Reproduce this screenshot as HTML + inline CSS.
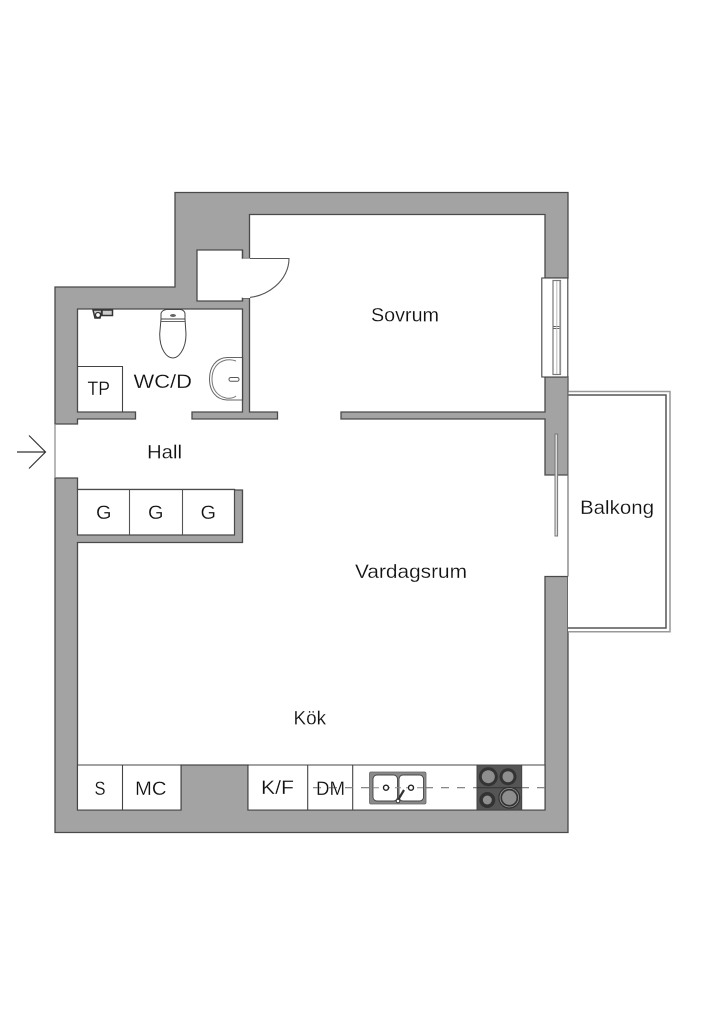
<!DOCTYPE html>
<html><head><meta charset="utf-8"><style>
html,body{margin:0;padding:0;background:#fff}
svg{display:block}
text{font-family:"Liberation Sans",sans-serif;font-size:19.5px;fill:#111;stroke:#fff;stroke-width:.2px}
</style></head><body>
<svg width="724" height="1024" viewBox="0 0 724 1024" xmlns="http://www.w3.org/2000/svg">
<rect width="724" height="1024" fill="#fff"/>
<!-- walls -->
<path fill="#a3a3a3" stroke="#4a4a4a" stroke-width="1.3" d="M175 192.500H568V278H545V214.500H249.500V258.500H242.500V250H197V301H242.500V298H249.500V412H277.500V419H192V412H242.500V309H77.500V412H135.500V419H77.500V424H55V287H175Z"/>
<path fill="#a3a3a3" stroke="#4a4a4a" stroke-width="1.3" d="M545 377H568V475H545V419H341V412H545Z"/>
<path fill="#a3a3a3" stroke="#4a4a4a" stroke-width="1.3" d="M55 478H77.500V489.500H234.500V490H242.500V542.500H77.500V765H77.500V810H181V765H248V810H545V576.500H568V832.500H55Z"/>
<path fill="#fff" stroke="#4a4a4a" stroke-width="1.2" d="M77.500 489.500H234.500V535H77.500Z"/>
<path stroke="#555" stroke-width="1.1" d="M129.500 489.500V535M182.500 489.500V535" fill="none"/>
<!-- entrance -->
<path d="M55 424V478" stroke="#888" stroke-width="1.2" fill="none"/>
<path d="M17 452H45.500M29 435.500L45.500 452L29 468.500" stroke="#333" stroke-width="1.2" fill="none"/>
<!-- door leaf -->
<path d="M242.500 258.500H289C289 280 268 298 242.500 298" fill="#fff" stroke="#555" stroke-width="1.1"/>
<path d="M242.500 258.500H250V298H242.500Z" fill="#fff"/>
<path d="M242.500 258.500V250M242.500 298V301" stroke="#4a4a4a" stroke-width="1.3" fill="none"/>
<!-- window -->
<rect x="541.800" y="278" width="26" height="99" fill="#fff" stroke="#444" stroke-width="1.1"/>
<rect x="553" y="280.500" width="7.500" height="94" fill="#fff" stroke="#777" stroke-width="1.2"/>
<path d="M553 326.500H560.500M553 328.500H560.500" stroke="#666" stroke-width="1"/>
<path d="M556.800 281V374" stroke="#bbb" stroke-width="1"/>
<path d="M560 281V374" stroke="#999" stroke-width="1.400"/>
<!-- balcony -->
<path d="M568 391.500H670V631.800H568" fill="#fff" stroke="#999" stroke-width="1.500"/>
<path d="M568 395H666V628H568" fill="none" stroke="#555" stroke-width="1.500"/>
<path d="M568 377V576.500" stroke="#666" stroke-width="1.100" fill="none"/>
<!-- sliding door -->
<rect x="555" y="434" width="2.600" height="102" fill="#ddd" stroke="#777" stroke-width="1"/>
<!-- WC: TP -->
<path d="M77.500 366.500H122.500V412" fill="none" stroke="#444" stroke-width="1.1"/>
<!-- toilet -->
<path d="M161 322V314C161 311 165 309.500 167 309.500H180C182 309.500 185 311 185 314V322" fill="#fff" stroke="#444" stroke-width="1"/>
<path d="M161 319H185L186 334C186 350 178 358 173 358C167 358 159.700 350 159.700 334Z" fill="#fff" stroke="#444" stroke-width="1"/>
<ellipse cx="173" cy="315.500" rx="3" ry="1.500" fill="#666"/>
<path d="M161 321.500H185" stroke="#666" stroke-width="1"/>
<!-- tap -->
<path d="M93 310L95 318H100L102 310ZM102 310H112.500V315.500H102Z" fill="#ccc" stroke="#333" stroke-width="1.500"/>
<circle cx="98" cy="315" r="2.500" fill="#fff" stroke="#333" stroke-width="1.300"/>
<!-- WC sink -->
<path d="M242.500 357.500H227C216 358 209.500 367 209.500 379C209.500 391 216 399.500 227 400H242.500" fill="#fff" stroke="#666" stroke-width="1"/>
<path d="M236 361C232 359.500 229 359.500 226 360C217 362 212 369 212 379C212 389 217 396 226 398C229 398.500 233 398.500 236 396" fill="none" stroke="#777" stroke-width="1"/>
<path d="M242.500 357V400.500" stroke="#444" stroke-width="1.200"/>
<rect x="229" y="377.500" width="10" height="3.800" rx="1.800" fill="#fff" stroke="#555" stroke-width="1"/>
<!-- kitchen -->
<path d="M77.500 765H181V810H77.500Z" fill="#fff" stroke="#444" stroke-width="1.100"/>
<path d="M122.500 765V810" stroke="#444" stroke-width="1.100"/>
<path d="M248 765H545V810H248Z" fill="#fff" stroke="#444" stroke-width="1.100"/>
<path d="M307.700 765V810M352.700 765V810" stroke="#444" stroke-width="1.100"/>
<path d="M313 787.700H545" stroke="#777" stroke-width="1.100" stroke-dasharray="8 8"/>
<!-- sink -->
<rect x="369.500" y="772" width="56.500" height="32" rx="1.500" fill="#8a8a8a" stroke="#666" stroke-width=".8"/>
<rect x="373" y="775" width="24.500" height="26" rx="4" fill="#fff" stroke="#444" stroke-width=".9"/>
<rect x="399" y="775" width="24.500" height="26" rx="4" fill="#fff" stroke="#444" stroke-width=".9"/>
<path d="M373 787.700H423" stroke="#888" stroke-width="1" stroke-dasharray="6 5"/>
<circle cx="386" cy="787.700" r="2.500" fill="#fff" stroke="#222" stroke-width="1.400"/>
<circle cx="411" cy="787.700" r="2.500" fill="#fff" stroke="#222" stroke-width="1.400"/>
<path d="M398 800L404 790" stroke="#333" stroke-width="2.200"/>
<circle cx="398" cy="801" r="1.800" fill="#fff" stroke="#333" stroke-width="1"/>
<!-- stove -->
<rect x="477" y="765" width="44.700" height="45" fill="#555" stroke="#444" stroke-width="1"/>
<path d="M477 787.700H521" stroke="#333" stroke-width="1"/>
<circle cx="488.300" cy="776.700" r="9.500" fill="#333"/><circle cx="488.300" cy="776.700" r="6.500" fill="#8e8e8e"/>
<circle cx="508" cy="776.700" r="8.500" fill="#333"/><circle cx="508" cy="776.700" r="5.500" fill="#8e8e8e"/>
<circle cx="487.300" cy="800" r="8" fill="#333"/><circle cx="487.300" cy="800" r="4.500" fill="#8e8e8e"/>
<circle cx="509.300" cy="797.700" r="11" fill="#333"/><circle cx="509.300" cy="797.700" r="9.300" fill="none" stroke="#999" stroke-width=".8"/><circle cx="509.300" cy="797.700" r="7.200" fill="#8e8e8e"/>
<!-- labels -->
<text x="371" y="321.500" textLength="68" lengthAdjust="spacingAndGlyphs">Sovrum</text>
<text x="133.500" y="388" textLength="58.500" lengthAdjust="spacingAndGlyphs">WC/D</text>
<text x="87.500" y="395" textLength="22.500" lengthAdjust="spacingAndGlyphs">TP</text>
<text x="147" y="458.500" textLength="35" lengthAdjust="spacingAndGlyphs">Hall</text>
<text x="96" y="519" textLength="15.500" lengthAdjust="spacingAndGlyphs">G</text>
<text x="148" y="519" textLength="15.500" lengthAdjust="spacingAndGlyphs">G</text>
<text x="200.500" y="519" textLength="15.500" lengthAdjust="spacingAndGlyphs">G</text>
<text x="580" y="514" textLength="74" lengthAdjust="spacingAndGlyphs">Balkong</text>
<text x="355" y="578" textLength="112" lengthAdjust="spacingAndGlyphs">Vardagsrum</text>
<text x="293.500" y="724.500" textLength="32.500" lengthAdjust="spacingAndGlyphs">Kök</text>
<text x="94.500" y="795" textLength="11" lengthAdjust="spacingAndGlyphs">S</text>
<text x="135" y="795" textLength="31.500" lengthAdjust="spacingAndGlyphs">MC</text>
<text x="261" y="794" textLength="33" lengthAdjust="spacingAndGlyphs">K/F</text>
<text x="316" y="795" textLength="29" lengthAdjust="spacingAndGlyphs">DM</text>
</svg>
</body></html>
